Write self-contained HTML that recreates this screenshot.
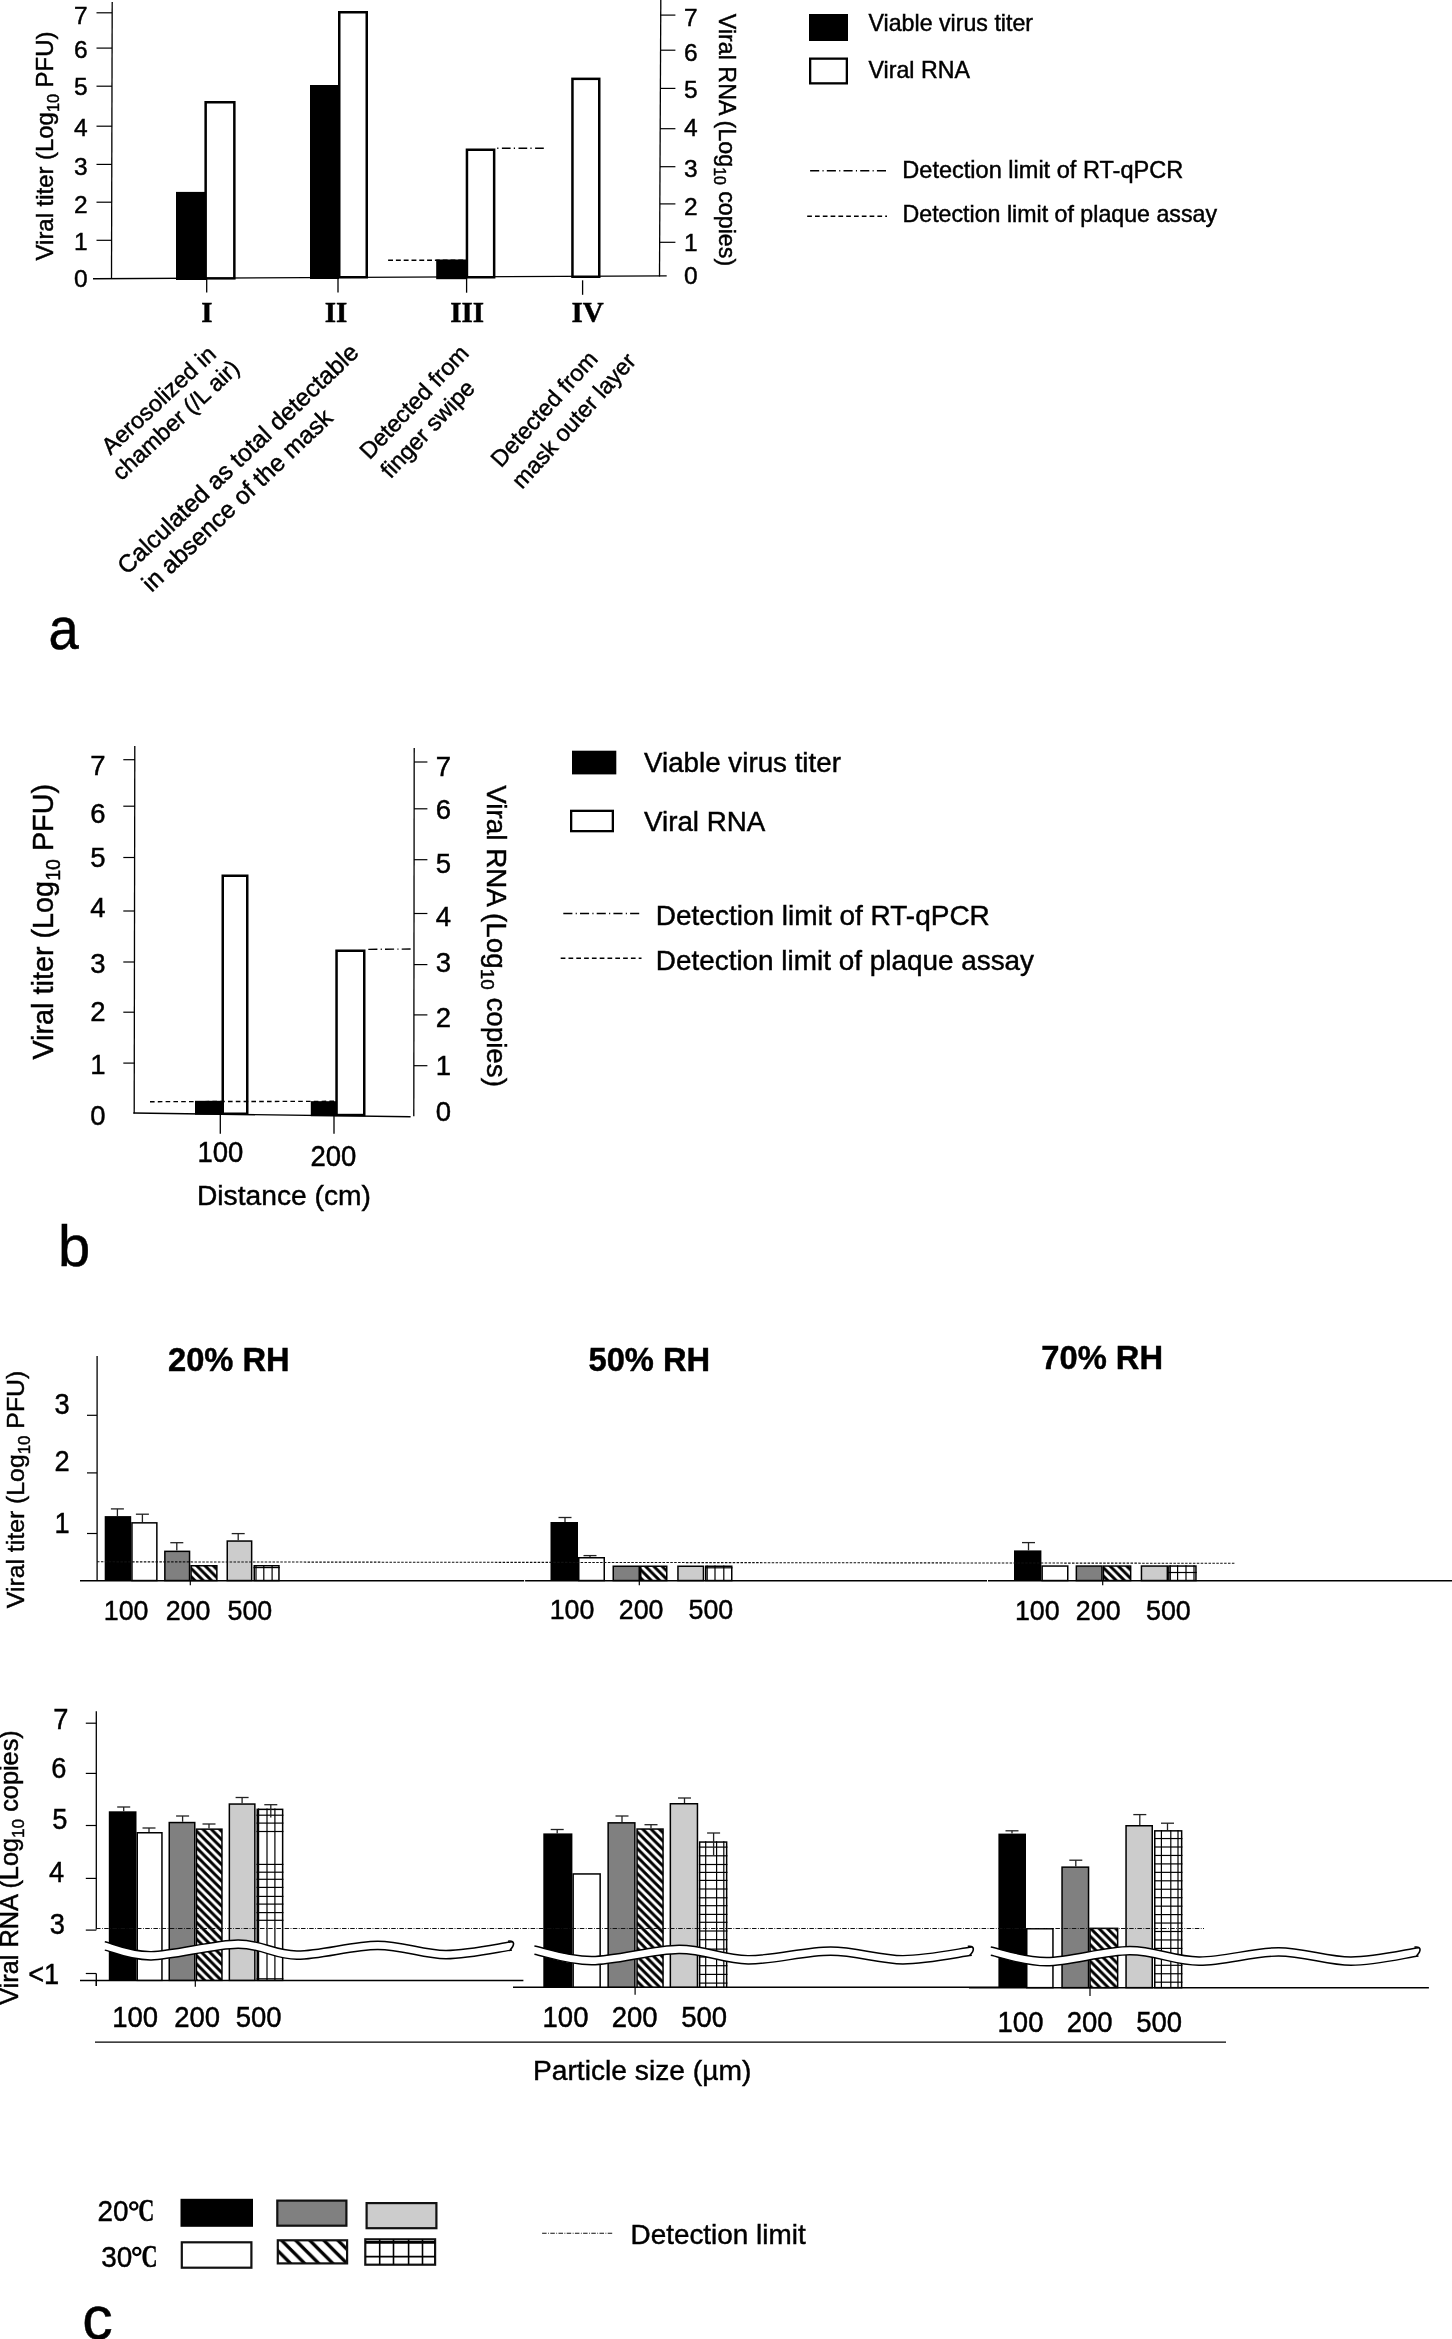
<!DOCTYPE html>
<html><head><meta charset="utf-8"><title>Figure</title>
<style>html,body{margin:0;padding:0;background:#fff;overflow:hidden}svg{display:block;will-change:transform}text{stroke:#000;stroke-width:0.45px}</style>
</head><body>
<svg width="1452" height="2339" viewBox="0 0 1452 2339" font-family='"Liberation Sans", sans-serif'>
<rect width="1452" height="2339" fill="#fff"/>
<line x1="112.2" y1="2" x2="111.5" y2="279" stroke="#000" stroke-width="1.3" />
<line x1="93" y1="278.7" x2="666.7" y2="275.9" stroke="#000" stroke-width="1.4" />
<line x1="660.8" y1="0" x2="659.5" y2="276.5" stroke="#000" stroke-width="1.3" />
<text x="80.8" y="287.0" font-family='"Liberation Sans", sans-serif' font-size="24.5" font-weight="normal" text-anchor="middle" >0</text>
<line x1="96.5" y1="240.3" x2="112" y2="240.3" stroke="#000" stroke-width="1.2" />
<text x="80.8" y="249.7" font-family='"Liberation Sans", sans-serif' font-size="24.5" font-weight="normal" text-anchor="middle" >1</text>
<line x1="96.5" y1="202.2" x2="112" y2="202.2" stroke="#000" stroke-width="1.2" />
<text x="80.8" y="213.3" font-family='"Liberation Sans", sans-serif' font-size="24.5" font-weight="normal" text-anchor="middle" >2</text>
<line x1="96.5" y1="164.4" x2="112" y2="164.4" stroke="#000" stroke-width="1.2" />
<text x="80.8" y="175.0" font-family='"Liberation Sans", sans-serif' font-size="24.5" font-weight="normal" text-anchor="middle" >3</text>
<line x1="96.5" y1="126.2" x2="112" y2="126.2" stroke="#000" stroke-width="1.2" />
<text x="80.8" y="135.9" font-family='"Liberation Sans", sans-serif' font-size="24.5" font-weight="normal" text-anchor="middle" >4</text>
<line x1="96.5" y1="86.2" x2="112" y2="86.2" stroke="#000" stroke-width="1.2" />
<text x="80.8" y="95.3" font-family='"Liberation Sans", sans-serif' font-size="24.5" font-weight="normal" text-anchor="middle" >5</text>
<line x1="96.5" y1="48.1" x2="112" y2="48.1" stroke="#000" stroke-width="1.2" />
<text x="80.8" y="57.7" font-family='"Liberation Sans", sans-serif' font-size="24.5" font-weight="normal" text-anchor="middle" >6</text>
<line x1="96.5" y1="12.8" x2="112" y2="12.8" stroke="#000" stroke-width="1.2" />
<text x="80.8" y="24.0" font-family='"Liberation Sans", sans-serif' font-size="24.5" font-weight="normal" text-anchor="middle" >7</text>
<text x="690.7" y="284.2" font-family='"Liberation Sans", sans-serif' font-size="24.5" font-weight="normal" text-anchor="middle" >0</text>
<line x1="660" y1="242.3" x2="675.4" y2="242.3" stroke="#000" stroke-width="1.2" />
<text x="690.7" y="251.0" font-family='"Liberation Sans", sans-serif' font-size="24.5" font-weight="normal" text-anchor="middle" >1</text>
<line x1="660" y1="203.9" x2="675.4" y2="203.9" stroke="#000" stroke-width="1.2" />
<text x="690.7" y="214.5" font-family='"Liberation Sans", sans-serif' font-size="24.5" font-weight="normal" text-anchor="middle" >2</text>
<line x1="660" y1="166.7" x2="675.4" y2="166.7" stroke="#000" stroke-width="1.2" />
<text x="690.7" y="177.0" font-family='"Liberation Sans", sans-serif' font-size="24.5" font-weight="normal" text-anchor="middle" >3</text>
<line x1="660" y1="128.7" x2="675.4" y2="128.7" stroke="#000" stroke-width="1.2" />
<text x="690.7" y="136.4" font-family='"Liberation Sans", sans-serif' font-size="24.5" font-weight="normal" text-anchor="middle" >4</text>
<line x1="660" y1="88.4" x2="675.4" y2="88.4" stroke="#000" stroke-width="1.2" />
<text x="690.7" y="97.6" font-family='"Liberation Sans", sans-serif' font-size="24.5" font-weight="normal" text-anchor="middle" >5</text>
<line x1="660" y1="50.2" x2="675.4" y2="50.2" stroke="#000" stroke-width="1.2" />
<text x="690.7" y="61.2" font-family='"Liberation Sans", sans-serif' font-size="24.5" font-weight="normal" text-anchor="middle" >6</text>
<line x1="660" y1="15.1" x2="675.4" y2="15.1" stroke="#000" stroke-width="1.2" />
<text x="690.7" y="26.0" font-family='"Liberation Sans", sans-serif' font-size="24.5" font-weight="normal" text-anchor="middle" >7</text>
<rect x="176" y="191.9" width="30.5" height="88.1" fill="#000" stroke="none" stroke-width="0" />
<rect x="205.65" y="102.25" width="28.7" height="176.1" fill="#fff" stroke="#000" stroke-width="2.5" />
<rect x="310" y="85" width="29" height="194" fill="#000" stroke="none" stroke-width="0" />
<rect x="339.25" y="12.25" width="27.5" height="265.0" fill="#fff" stroke="#000" stroke-width="2.5" />
<rect x="436.2" y="259.5" width="31" height="19.7" fill="#000" stroke="none" stroke-width="0" />
<rect x="466.95" y="149.75" width="27.2" height="127.5" fill="#fff" stroke="#000" stroke-width="2.5" />
<rect x="572.45" y="78.85" width="26.8" height="197.9" fill="#fff" stroke="#000" stroke-width="2.5" />
<line x1="388.1" y1="260.2" x2="466" y2="260.2" stroke="#000" stroke-width="1.4" stroke-dasharray="4.9,2.9"/>
<line x1="496.3" y1="148.2" x2="544.3" y2="148.2" stroke="#000" stroke-width="1.4" stroke-dasharray="8.7,3.2,1.2,3.5" stroke-dashoffset="11"/>
<line x1="206.7" y1="278.8" x2="206.7" y2="292.5" stroke="#000" stroke-width="1.3" />
<line x1="338" y1="277.5" x2="338" y2="292.5" stroke="#000" stroke-width="1.3" />
<line x1="466.6" y1="278.3" x2="466.6" y2="292.7" stroke="#000" stroke-width="1.3" />
<line x1="582.6" y1="280.3" x2="582.6" y2="294.8" stroke="#000" stroke-width="1.3" />
<text x="207" y="322.3" font-family='"Liberation Serif", serif' font-size="29" font-weight="bold" text-anchor="middle" >I</text>
<text x="336" y="322.3" font-family='"Liberation Serif", serif' font-size="29" font-weight="bold" text-anchor="middle" >II</text>
<text x="467.2" y="322.3" font-family='"Liberation Serif", serif' font-size="29" font-weight="bold" text-anchor="middle" >III</text>
<text x="587.5" y="322.3" font-family='"Liberation Serif", serif' font-size="29" font-weight="bold" text-anchor="middle" >IV</text>
<text transform="translate(53,260.4) rotate(-90)" font-family='"Liberation Sans", sans-serif' font-size="23.9">Viral titer (Log<tspan font-size="16.25" dy="5.74">10</tspan><tspan dy="-5.74"> PFU)</tspan></text>
<text transform="translate(719.1,13.8) rotate(90)" font-family='"Liberation Sans", sans-serif' font-size="23.25">Viral RNA (Log<tspan font-size="15.81" dy="5.58">10</tspan><tspan dy="-5.58"> copies)</tspan></text>
<rect x="809" y="14" width="39" height="27" fill="#000" stroke="none" stroke-width="0" />
<rect x="810.15" y="58.65" width="36.7" height="24.7" fill="#fff" stroke="#000" stroke-width="2.3" />
<text x="868.5" y="30.5" font-family='"Liberation Sans", sans-serif' font-size="23.2" font-weight="normal" text-anchor="start" >Viable virus titer</text>
<text x="868.5" y="78" font-family='"Liberation Sans", sans-serif' font-size="23.2" font-weight="normal" text-anchor="start" >Viral RNA</text>
<line x1="810.1" y1="170.8" x2="886" y2="170.8" stroke="#000" stroke-width="1.4" stroke-dasharray="9.1,3.3,1.1,3.2"/>
<line x1="807.2" y1="216.2" x2="887" y2="216.2" stroke="#000" stroke-width="1.4" stroke-dasharray="4.7,3.1"/>
<text x="902.3" y="177.8" font-family='"Liberation Sans", sans-serif' font-size="23.55" font-weight="normal" text-anchor="start" >Detection limit of RT-qPCR</text>
<text x="902.5" y="222.2" font-family='"Liberation Sans", sans-serif' font-size="23.2" font-weight="normal" text-anchor="start" >Detection limit of plaque assay</text>
<text transform="translate(110.5,455.7) rotate(-43)" font-family='"Liberation Sans", sans-serif' font-size="23.3" text-anchor="start">Aerosolized in</text>
<text transform="translate(121.3,481.5) rotate(-43)" font-family='"Liberation Sans", sans-serif' font-size="23.3" text-anchor="start">chamber (/L air)</text>
<text transform="translate(127,575.5) rotate(-43.5)" font-family='"Liberation Sans", sans-serif' font-size="24.5" text-anchor="start">Calculated as total detectable</text>
<text transform="translate(151.5,593) rotate(-43.5)" font-family='"Liberation Sans", sans-serif' font-size="24.5" text-anchor="start">in absence of the mask</text>
<text transform="translate(369.5,460.5) rotate(-46.5)" font-family='"Liberation Sans", sans-serif' font-size="23.3" text-anchor="start">Detected from</text>
<text transform="translate(390.5,479.5) rotate(-46.5)" font-family='"Liberation Sans", sans-serif' font-size="23.3" text-anchor="start">finger swipe</text>
<text transform="translate(501,468.5) rotate(-48)" font-family='"Liberation Sans", sans-serif' font-size="23.3" text-anchor="start">Detected from</text>
<text transform="translate(522,490) rotate(-48)" font-family='"Liberation Sans", sans-serif' font-size="23.3" text-anchor="start">mask outer layer</text>
<text transform="translate(48.5,648.6) scale(0.93,1)" font-family='"Liberation Sans", sans-serif' font-size="58.5">a</text>
<line x1="134.8" y1="746" x2="134.2" y2="1113.5" stroke="#000" stroke-width="1.3" />
<line x1="133.3" y1="1113" x2="410.6" y2="1116.8" stroke="#000" stroke-width="1.4" />
<line x1="414.2" y1="748" x2="413.8" y2="1116.3" stroke="#000" stroke-width="1.3" />
<text x="98" y="1125" font-family='"Liberation Sans", sans-serif' font-size="27.5" font-weight="normal" text-anchor="middle" >0</text>
<line x1="123.3" y1="1063.1" x2="135" y2="1063.1" stroke="#000" stroke-width="1.2" />
<text x="98" y="1074" font-family='"Liberation Sans", sans-serif' font-size="27.5" font-weight="normal" text-anchor="middle" >1</text>
<line x1="123.3" y1="1012.2" x2="135" y2="1012.2" stroke="#000" stroke-width="1.2" />
<text x="98" y="1020.8" font-family='"Liberation Sans", sans-serif' font-size="27.5" font-weight="normal" text-anchor="middle" >2</text>
<line x1="123.3" y1="962" x2="135" y2="962" stroke="#000" stroke-width="1.2" />
<text x="98" y="973.3" font-family='"Liberation Sans", sans-serif' font-size="27.5" font-weight="normal" text-anchor="middle" >3</text>
<line x1="123.3" y1="911" x2="135" y2="911" stroke="#000" stroke-width="1.2" />
<text x="98" y="917.4" font-family='"Liberation Sans", sans-serif' font-size="27.5" font-weight="normal" text-anchor="middle" >4</text>
<line x1="123.3" y1="857.5" x2="135" y2="857.5" stroke="#000" stroke-width="1.2" />
<text x="98" y="866.6" font-family='"Liberation Sans", sans-serif' font-size="27.5" font-weight="normal" text-anchor="middle" >5</text>
<line x1="123.3" y1="806.2" x2="135" y2="806.2" stroke="#000" stroke-width="1.2" />
<text x="98" y="823" font-family='"Liberation Sans", sans-serif' font-size="27.5" font-weight="normal" text-anchor="middle" >6</text>
<line x1="123.3" y1="759.7" x2="135" y2="759.7" stroke="#000" stroke-width="1.2" />
<text x="98" y="775" font-family='"Liberation Sans", sans-serif' font-size="27.5" font-weight="normal" text-anchor="middle" >7</text>
<text x="443.5" y="1121.2" font-family='"Liberation Sans", sans-serif' font-size="27.5" font-weight="normal" text-anchor="middle" >0</text>
<line x1="414" y1="1065.7" x2="427.4" y2="1065.7" stroke="#000" stroke-width="1.2" />
<text x="443.5" y="1074.9" font-family='"Liberation Sans", sans-serif' font-size="27.5" font-weight="normal" text-anchor="middle" >1</text>
<line x1="414" y1="1014.9" x2="427.4" y2="1014.9" stroke="#000" stroke-width="1.2" />
<text x="443.5" y="1027" font-family='"Liberation Sans", sans-serif' font-size="27.5" font-weight="normal" text-anchor="middle" >2</text>
<line x1="414" y1="964.6" x2="427.4" y2="964.6" stroke="#000" stroke-width="1.2" />
<text x="443.5" y="972" font-family='"Liberation Sans", sans-serif' font-size="27.5" font-weight="normal" text-anchor="middle" >3</text>
<line x1="414" y1="913.5" x2="427.4" y2="913.5" stroke="#000" stroke-width="1.2" />
<text x="443.5" y="925.9" font-family='"Liberation Sans", sans-serif' font-size="27.5" font-weight="normal" text-anchor="middle" >4</text>
<line x1="414" y1="859.7" x2="427.4" y2="859.7" stroke="#000" stroke-width="1.2" />
<text x="443.5" y="873" font-family='"Liberation Sans", sans-serif' font-size="27.5" font-weight="normal" text-anchor="middle" >5</text>
<line x1="414" y1="808.8" x2="427.4" y2="808.8" stroke="#000" stroke-width="1.2" />
<text x="443.5" y="819.2" font-family='"Liberation Sans", sans-serif' font-size="27.5" font-weight="normal" text-anchor="middle" >6</text>
<line x1="414" y1="762" x2="427.4" y2="762" stroke="#000" stroke-width="1.2" />
<text x="443.5" y="775.5" font-family='"Liberation Sans", sans-serif' font-size="27.5" font-weight="normal" text-anchor="middle" >7</text>
<rect x="195" y="1100.8" width="27.5" height="13.9" fill="#000" stroke="none" stroke-width="0" />
<rect x="222.75" y="875.75" width="24.5" height="238.0" fill="#fff" stroke="#000" stroke-width="2.5" />
<rect x="310.8" y="1101.2" width="25.5" height="15" fill="#000" stroke="none" stroke-width="0" />
<rect x="336.55" y="950.75" width="27.7" height="164.3" fill="#fff" stroke="#000" stroke-width="2.5" />
<line x1="150" y1="1101.7" x2="335" y2="1101.3" stroke="#000" stroke-width="1.4" stroke-dasharray="4.6,3.2"/>
<line x1="368.3" y1="949.4" x2="410.6" y2="949" stroke="#000" stroke-width="1.4" stroke-dasharray="9.1,3.3,1.1,3.2"/>
<line x1="220.3" y1="1113.5" x2="220.3" y2="1133.7" stroke="#000" stroke-width="1.3" />
<line x1="334" y1="1116" x2="334" y2="1133.7" stroke="#000" stroke-width="1.3" />
<text transform="translate(220.4,1162.2) scale(1,1.065)" font-family='"Liberation Sans", sans-serif' font-size="27.5" font-weight="normal" text-anchor="middle" >100</text>
<text transform="translate(333.4,1165.7) scale(1,1.065)" font-family='"Liberation Sans", sans-serif' font-size="27.5" font-weight="normal" text-anchor="middle" >200</text>
<text x="197" y="1205.3" font-family='"Liberation Sans", sans-serif' font-size="28.2" font-weight="normal" text-anchor="start" >Distance (cm)</text>
<text transform="translate(53.1,1059.6) rotate(-90)" font-family='"Liberation Sans", sans-serif' font-size="28.8">Viral titer (Log<tspan font-size="19.58" dy="6.91">10</tspan><tspan dy="-6.91"> PFU)</tspan></text>
<text transform="translate(487.2,785.3) rotate(90)" font-family='"Liberation Sans", sans-serif' font-size="27.8">Viral RNA (Log<tspan font-size="18.9" dy="6.67">10</tspan><tspan dy="-6.67"> copies)</tspan></text>
<rect x="572" y="750.7" width="44.3" height="23.7" fill="#000" stroke="none" stroke-width="0" />
<rect x="571.15" y="810.85" width="41.7" height="20.3" fill="#fff" stroke="#000" stroke-width="2.3" />
<text x="644" y="772" font-family='"Liberation Sans", sans-serif' font-size="27.75" font-weight="normal" text-anchor="start" >Viable virus titer</text>
<text x="644" y="830.5" font-family='"Liberation Sans", sans-serif' font-size="27.75" font-weight="normal" text-anchor="start" >Viral RNA</text>
<line x1="563.3" y1="913.5" x2="640.8" y2="913.5" stroke="#000" stroke-width="1.4" stroke-dasharray="9.1,3.3,1.1,3.2"/>
<line x1="560.7" y1="958.3" x2="641.5" y2="958.3" stroke="#000" stroke-width="1.4" stroke-dasharray="4.7,3.1"/>
<text x="655.8" y="924.9" font-family='"Liberation Sans", sans-serif' font-size="28.0" font-weight="normal" text-anchor="start" >Detection limit of RT-qPCR</text>
<text x="655.8" y="970" font-family='"Liberation Sans", sans-serif' font-size="27.9" font-weight="normal" text-anchor="start" >Detection limit of plaque assay</text>
<text x="58" y="1265.5" font-family='"Liberation Sans", sans-serif' font-size="58" font-weight="normal" text-anchor="start" >b</text>
<defs>
<pattern id="hat" patternUnits="userSpaceOnUse" width="8.3" height="8.3" patternTransform="translate(0.5,0)">
<rect width="8.3" height="8.3" fill="#fff"/>
<path d="M-2,-2 L10.3,10.3 M-2,6.3 L2,10.3 M6.3,-2 L10.3,2" stroke="#000" stroke-width="3.0"/>
</pattern>
<pattern id="hatL" patternUnits="userSpaceOnUse" width="14.1" height="14.1" patternTransform="translate(282.6,2241.4)">
<rect width="14.1" height="14.1" fill="#fff"/>
<path d="M-3,-3 L17.1,17.1 M-3,11.1 L3,17.1 M11.1,-3 L17.1,3" stroke="#000" stroke-width="3.3"/>
</pattern>
</defs>
<line x1="97.1" y1="1356" x2="97.1" y2="1581" stroke="#000" stroke-width="1.3" />
<line x1="80" y1="1580.7" x2="1452" y2="1580.7" stroke="#000" stroke-width="1.4" />
<line x1="87" y1="1415.3" x2="97" y2="1415.3" stroke="#000" stroke-width="1.2" />
<text transform="translate(62,1413.6) scale(0.93,1)" font-family='"Liberation Sans", sans-serif' font-size="29.3" text-anchor="middle">3</text>
<line x1="87" y1="1472.9" x2="97" y2="1472.9" stroke="#000" stroke-width="1.2" />
<text transform="translate(62,1470.5) scale(0.93,1)" font-family='"Liberation Sans", sans-serif' font-size="29.3" text-anchor="middle">2</text>
<line x1="87" y1="1533.5" x2="97" y2="1533.5" stroke="#000" stroke-width="1.2" />
<text transform="translate(62,1533.3) scale(0.93,1)" font-family='"Liberation Sans", sans-serif' font-size="29.3" text-anchor="middle">1</text>
<text x="168" y="1371" font-family='"Liberation Sans", sans-serif' font-size="32.7" font-weight="bold" text-anchor="start" >20% RH</text>
<text x="588.5" y="1371" font-family='"Liberation Sans", sans-serif' font-size="32.7" font-weight="bold" text-anchor="start" >50% RH</text>
<text x="1041.3" y="1369.2" font-family='"Liberation Sans", sans-serif' font-size="32.7" font-weight="bold" text-anchor="start" >70% RH</text>
<rect x="104.7" y="1516.1" width="26.5" height="64.6" fill="#000" stroke="none" stroke-width="0" />
<line x1="117.4" y1="1508.9" x2="117.4" y2="1516.1" stroke="#222" stroke-width="1.3" />
<line x1="110.9" y1="1508.9" x2="123.9" y2="1508.9" stroke="#222" stroke-width="1.3" />
<rect x="131.95" y="1522.85" width="24.9" height="57.7" fill="#fff" stroke="#000" stroke-width="1.5" />
<line x1="142.4" y1="1514.2" x2="142.4" y2="1522.1" stroke="#222" stroke-width="1.3" />
<line x1="135.9" y1="1514.2" x2="148.9" y2="1514.2" stroke="#222" stroke-width="1.3" />
<rect x="164.85" y="1551.35" width="24.7" height="29.2" fill="#808080" stroke="#000" stroke-width="1.5" />
<line x1="176.8" y1="1542.7" x2="176.8" y2="1550.6" stroke="#222" stroke-width="1.3" />
<line x1="170.3" y1="1542.7" x2="183.3" y2="1542.7" stroke="#222" stroke-width="1.3" />
<rect x="191.05" y="1565.75" width="25.8" height="14.8" fill="url(#hat)" stroke="#000" stroke-width="1.5" />
<rect x="227.25" y="1541.05" width="24.4" height="39.5" fill="#cccccc" stroke="#000" stroke-width="1.5" />
<line x1="238.2" y1="1533.6" x2="238.2" y2="1540.3" stroke="#222" stroke-width="1.3" />
<line x1="231.7" y1="1533.6" x2="244.7" y2="1533.6" stroke="#222" stroke-width="1.3" />
<rect x="254.25" y="1565.75" width="24.7" height="14.8" fill="#fff" stroke="#000" stroke-width="1.5" />
<line x1="253.5" y1="1567.6" x2="279.7" y2="1567.6" stroke="#000" stroke-width="1.2" />
<line x1="256" y1="1565" x2="256" y2="1580.7" stroke="#000" stroke-width="1.2" />
<line x1="263.8" y1="1565" x2="263.8" y2="1580.7" stroke="#000" stroke-width="1.2" />
<line x1="272.1" y1="1565" x2="272.1" y2="1580.7" stroke="#000" stroke-width="1.2" />
<rect x="550.5" y="1522" width="27.5" height="58.7" fill="#000" stroke="none" stroke-width="0" />
<line x1="565" y1="1517.5" x2="565" y2="1522" stroke="#222" stroke-width="1.3" />
<line x1="558.5" y1="1517.5" x2="571.5" y2="1517.5" stroke="#222" stroke-width="1.3" />
<rect x="578.75" y="1557.75" width="25.5" height="22.8" fill="#fff" stroke="#000" stroke-width="1.5" />
<line x1="590" y1="1555.6" x2="590" y2="1557" stroke="#222" stroke-width="1.3" />
<line x1="583.5" y1="1555.6" x2="596.5" y2="1555.6" stroke="#222" stroke-width="1.3" />
<rect x="613.25" y="1566.25" width="26.0" height="14.3" fill="#808080" stroke="#000" stroke-width="1.5" />
<rect x="640.75" y="1566.25" width="26.0" height="14.3" fill="url(#hat)" stroke="#000" stroke-width="1.5" />
<rect x="677.95" y="1566.25" width="25.5" height="14.3" fill="#cccccc" stroke="#000" stroke-width="1.5" />
<rect x="705.75" y="1566.25" width="26.0" height="14.3" fill="#fff" stroke="#000" stroke-width="1.5" />
<line x1="705" y1="1567.8" x2="732.5" y2="1567.8" stroke="#000" stroke-width="1.2" />
<line x1="707.2" y1="1565.5" x2="707.2" y2="1580.7" stroke="#000" stroke-width="1.2" />
<line x1="715" y1="1565.5" x2="715" y2="1580.7" stroke="#000" stroke-width="1.2" />
<line x1="723.8" y1="1565.5" x2="723.8" y2="1580.7" stroke="#000" stroke-width="1.2" />
<rect x="1014" y="1550.4" width="27.4" height="30.3" fill="#000" stroke="none" stroke-width="0" />
<line x1="1028.5" y1="1542.6" x2="1028.5" y2="1550.4" stroke="#222" stroke-width="1.3" />
<line x1="1022.0" y1="1542.6" x2="1035.0" y2="1542.6" stroke="#222" stroke-width="1.3" />
<rect x="1042.15" y="1566.05" width="25.6" height="14.5" fill="#fff" stroke="#000" stroke-width="1.5" />
<rect x="1076.35" y="1566.05" width="25.6" height="14.5" fill="#808080" stroke="#000" stroke-width="1.5" />
<rect x="1103.45" y="1566.05" width="27.2" height="14.5" fill="url(#hat)" stroke="#000" stroke-width="1.5" />
<rect x="1141.45" y="1566.05" width="25.9" height="14.5" fill="#cccccc" stroke="#000" stroke-width="1.5" />
<rect x="1168.85" y="1566.05" width="27.1" height="14.5" fill="#fff" stroke="#000" stroke-width="1.5" />
<line x1="1168.1" y1="1572.5" x2="1196.7" y2="1572.5" stroke="#000" stroke-width="1.2" />
<line x1="1170.3" y1="1565.3" x2="1170.3" y2="1580.7" stroke="#000" stroke-width="1.2" />
<line x1="1177.6" y1="1565.3" x2="1177.6" y2="1580.7" stroke="#000" stroke-width="1.2" />
<line x1="1186" y1="1565.3" x2="1186" y2="1580.7" stroke="#000" stroke-width="1.2" />
<line x1="1194" y1="1565.3" x2="1194" y2="1580.7" stroke="#000" stroke-width="1.2" />
<line x1="97" y1="1561.8" x2="1235" y2="1563.3" stroke="#111" stroke-width="1.1" stroke-dasharray="2.5,1.4"/>
<rect x="524.1" y="1579" width="1" height="3.5" fill="#fff" stroke="none" stroke-width="0" />
<rect x="987" y="1579" width="1" height="3.5" fill="#fff" stroke="none" stroke-width="0" />
<line x1="190.3" y1="1580.7" x2="190.3" y2="1585.3" stroke="#000" stroke-width="1.2" />
<line x1="639.3" y1="1580.7" x2="639.3" y2="1585.3" stroke="#000" stroke-width="1.2" />
<line x1="1102.7" y1="1580.7" x2="1102.7" y2="1585.3" stroke="#000" stroke-width="1.2" />
<text transform="translate(126.1,1620) scale(1,1.04)" font-family='"Liberation Sans", sans-serif' font-size="26.8" font-weight="normal" text-anchor="middle" >100</text>
<text transform="translate(188,1620) scale(1,1.04)" font-family='"Liberation Sans", sans-serif' font-size="26.8" font-weight="normal" text-anchor="middle" >200</text>
<text transform="translate(249.9,1620) scale(1,1.04)" font-family='"Liberation Sans", sans-serif' font-size="26.8" font-weight="normal" text-anchor="middle" >500</text>
<text transform="translate(572,1619) scale(1,1.04)" font-family='"Liberation Sans", sans-serif' font-size="26.8" font-weight="normal" text-anchor="middle" >100</text>
<text transform="translate(641.1,1619) scale(1,1.04)" font-family='"Liberation Sans", sans-serif' font-size="26.8" font-weight="normal" text-anchor="middle" >200</text>
<text transform="translate(710.9,1619) scale(1,1.04)" font-family='"Liberation Sans", sans-serif' font-size="26.8" font-weight="normal" text-anchor="middle" >500</text>
<text transform="translate(1037.3,1620.4) scale(1,1.04)" font-family='"Liberation Sans", sans-serif' font-size="26.8" font-weight="normal" text-anchor="middle" >100</text>
<text transform="translate(1098.2,1620.4) scale(1,1.04)" font-family='"Liberation Sans", sans-serif' font-size="26.8" font-weight="normal" text-anchor="middle" >200</text>
<text transform="translate(1168.4,1620.4) scale(1,1.04)" font-family='"Liberation Sans", sans-serif' font-size="26.8" font-weight="normal" text-anchor="middle" >500</text>
<text transform="translate(24.4,1608.2) rotate(-90)" font-family='"Liberation Sans", sans-serif' font-size="24.8">Viral titer (Log<tspan font-size="16.86" dy="5.95">10</tspan><tspan dy="-5.95"> PFU)</tspan></text>
<line x1="96.3" y1="1711.3" x2="96.3" y2="1929.5" stroke="#000" stroke-width="1.3" />
<line x1="96.3" y1="1973.5" x2="96.3" y2="1986" stroke="#000" stroke-width="1.3" />
<line x1="85.8" y1="1723.2" x2="96.3" y2="1723.2" stroke="#000" stroke-width="1.2" />
<text transform="translate(60.8,1728.8) scale(0.93,1)" font-family='"Liberation Sans", sans-serif' font-size="29.3" text-anchor="middle">7</text>
<line x1="85.8" y1="1773.4" x2="96.3" y2="1773.4" stroke="#000" stroke-width="1.2" />
<text transform="translate(58.8,1777.5) scale(0.93,1)" font-family='"Liberation Sans", sans-serif' font-size="29.3" text-anchor="middle">6</text>
<line x1="85.8" y1="1825.5" x2="96.3" y2="1825.5" stroke="#000" stroke-width="1.2" />
<text transform="translate(59.8,1829) scale(0.93,1)" font-family='"Liberation Sans", sans-serif' font-size="29.3" text-anchor="middle">5</text>
<line x1="85.8" y1="1878.4" x2="96.3" y2="1878.4" stroke="#000" stroke-width="1.2" />
<text transform="translate(56.6,1881.5) scale(0.93,1)" font-family='"Liberation Sans", sans-serif' font-size="29.3" text-anchor="middle">4</text>
<line x1="85.8" y1="1930.1" x2="96.3" y2="1930.1" stroke="#000" stroke-width="1.2" />
<text transform="translate(57.4,1933.7) scale(0.93,1)" font-family='"Liberation Sans", sans-serif' font-size="29.3" text-anchor="middle">3</text>
<line x1="85.8" y1="1973.5" x2="96.3" y2="1973.5" stroke="#000" stroke-width="1.2" />
<text transform="translate(59.2,1984.3) scale(0.93,1)" font-family='"Liberation Sans", sans-serif' font-size="29.3" text-anchor="end">&lt;1</text>
<text transform="translate(18,2004.8) rotate(-90)" font-family='"Liberation Sans", sans-serif' font-size="25.3">Viral RNA (Log<tspan font-size="17.2" dy="6.07">10</tspan><tspan dy="-6.07"> copies)</tspan></text>
<line x1="80" y1="1980.5" x2="523.4" y2="1980.5" stroke="#000" stroke-width="1.4" />
<line x1="513" y1="1987.3" x2="999" y2="1987.3" stroke="#000" stroke-width="1.4" />
<line x1="969" y1="1987.8" x2="1428.9" y2="1987.8" stroke="#000" stroke-width="1.4" />
<rect x="108.8" y="1811.3" width="27.7" height="169.2" fill="#000" stroke="none" stroke-width="0" />
<line x1="123.7" y1="1807" x2="123.7" y2="1811.3" stroke="#222" stroke-width="1.3" />
<line x1="117.2" y1="1807" x2="130.2" y2="1807" stroke="#222" stroke-width="1.3" />
<rect x="137.25" y="1832.75" width="24.7" height="147.6" fill="#fff" stroke="#000" stroke-width="1.5" />
<line x1="149" y1="1828" x2="149" y2="1832" stroke="#222" stroke-width="1.3" />
<line x1="142.5" y1="1828" x2="155.5" y2="1828" stroke="#222" stroke-width="1.3" />
<rect x="169.25" y="1822.55" width="25.5" height="157.8" fill="#808080" stroke="#000" stroke-width="1.5" />
<line x1="182.6" y1="1816" x2="182.6" y2="1821.8" stroke="#222" stroke-width="1.3" />
<line x1="176.1" y1="1816" x2="189.1" y2="1816" stroke="#222" stroke-width="1.3" />
<rect x="196.45" y="1829.15" width="25.5" height="151.2" fill="url(#hat)" stroke="#000" stroke-width="1.5" />
<line x1="209" y1="1824" x2="209" y2="1828.4" stroke="#222" stroke-width="1.3" />
<line x1="202.5" y1="1824" x2="215.5" y2="1824" stroke="#222" stroke-width="1.3" />
<rect x="229.35" y="1804.05" width="25.5" height="176.3" fill="#cccccc" stroke="#000" stroke-width="1.5" />
<line x1="242.1" y1="1797.5" x2="242.1" y2="1803.3" stroke="#222" stroke-width="1.3" />
<line x1="235.6" y1="1797.5" x2="248.6" y2="1797.5" stroke="#222" stroke-width="1.3" />
<rect x="257.25" y="1809.35" width="25.4" height="171.0" fill="#fff" stroke="#000" stroke-width="1.5" />
<line x1="256.5" y1="1815.2" x2="283.4" y2="1815.2" stroke="#000" stroke-width="1.2" />
<line x1="256.5" y1="1823.1" x2="283.4" y2="1823.1" stroke="#000" stroke-width="1.2" />
<line x1="256.5" y1="1831.5" x2="283.4" y2="1831.5" stroke="#000" stroke-width="1.2" />
<line x1="256.5" y1="1864.4" x2="283.4" y2="1864.4" stroke="#000" stroke-width="1.2" />
<line x1="256.5" y1="1872.2" x2="283.4" y2="1872.2" stroke="#000" stroke-width="1.2" />
<line x1="256.5" y1="1879.3" x2="283.4" y2="1879.3" stroke="#000" stroke-width="1.2" />
<line x1="256.5" y1="1887.4" x2="283.4" y2="1887.4" stroke="#000" stroke-width="1.2" />
<line x1="256.5" y1="1896.4" x2="283.4" y2="1896.4" stroke="#000" stroke-width="1.2" />
<line x1="256.5" y1="1904.1" x2="283.4" y2="1904.1" stroke="#000" stroke-width="1.2" />
<line x1="256.5" y1="1912.6" x2="283.4" y2="1912.6" stroke="#000" stroke-width="1.2" />
<line x1="256.5" y1="1920.3" x2="283.4" y2="1920.3" stroke="#000" stroke-width="1.2" />
<line x1="256.5" y1="1978.8" x2="283.4" y2="1978.8" stroke="#000" stroke-width="1.2" />
<line x1="258.6" y1="1808.6" x2="258.6" y2="1980.5" stroke="#000" stroke-width="1.2" />
<line x1="267" y1="1808.6" x2="267" y2="1980.5" stroke="#000" stroke-width="1.2" />
<line x1="274.9" y1="1808.6" x2="274.9" y2="1980.5" stroke="#000" stroke-width="1.2" />
<line x1="270.8" y1="1804.7" x2="270.8" y2="1817.4" stroke="#222" stroke-width="1.3" />
<line x1="264.3" y1="1804.7" x2="277.3" y2="1804.7" stroke="#222" stroke-width="1.3" />
<rect x="543.3" y="1833.4" width="29.1" height="153.9" fill="#000" stroke="none" stroke-width="0" />
<line x1="557.2" y1="1829.5" x2="557.2" y2="1833.4" stroke="#222" stroke-width="1.3" />
<line x1="550.7" y1="1829.5" x2="563.7" y2="1829.5" stroke="#222" stroke-width="1.3" />
<rect x="573.15" y="1873.95" width="27.0" height="113.2" fill="#fff" stroke="#000" stroke-width="1.5" />
<rect x="608.15" y="1822.85" width="26.7" height="164.3" fill="#808080" stroke="#000" stroke-width="1.5" />
<line x1="622" y1="1816" x2="622" y2="1822.1" stroke="#222" stroke-width="1.3" />
<line x1="615.5" y1="1816" x2="628.5" y2="1816" stroke="#222" stroke-width="1.3" />
<rect x="637.05" y="1829.05" width="26.0" height="158.1" fill="url(#hat)" stroke="#000" stroke-width="1.5" />
<line x1="651" y1="1824.7" x2="651" y2="1828.3" stroke="#222" stroke-width="1.3" />
<line x1="644.5" y1="1824.7" x2="657.5" y2="1824.7" stroke="#222" stroke-width="1.3" />
<rect x="670.35" y="1803.75" width="27.1" height="183.4" fill="#cccccc" stroke="#000" stroke-width="1.5" />
<line x1="684.5" y1="1798" x2="684.5" y2="1803" stroke="#222" stroke-width="1.3" />
<line x1="678.0" y1="1798" x2="691.0" y2="1798" stroke="#222" stroke-width="1.3" />
<rect x="699.65" y="1842.05" width="27.0" height="145.1" fill="#fff" stroke="#000" stroke-width="1.5" />
<line x1="698.9" y1="1847.1" x2="727.4" y2="1847.1" stroke="#000" stroke-width="1.2" />
<line x1="698.9" y1="1855.8" x2="727.4" y2="1855.8" stroke="#000" stroke-width="1.2" />
<line x1="698.9" y1="1864.5" x2="727.4" y2="1864.5" stroke="#000" stroke-width="1.2" />
<line x1="698.9" y1="1872.4" x2="727.4" y2="1872.4" stroke="#000" stroke-width="1.2" />
<line x1="698.9" y1="1880.4" x2="727.4" y2="1880.4" stroke="#000" stroke-width="1.2" />
<line x1="698.9" y1="1889" x2="727.4" y2="1889" stroke="#000" stroke-width="1.2" />
<line x1="698.9" y1="1897.8" x2="727.4" y2="1897.8" stroke="#000" stroke-width="1.2" />
<line x1="698.9" y1="1905.7" x2="727.4" y2="1905.7" stroke="#000" stroke-width="1.2" />
<line x1="698.9" y1="1914.4" x2="727.4" y2="1914.4" stroke="#000" stroke-width="1.2" />
<line x1="698.9" y1="1922.3" x2="727.4" y2="1922.3" stroke="#000" stroke-width="1.2" />
<line x1="698.9" y1="1931" x2="727.4" y2="1931" stroke="#000" stroke-width="1.2" />
<line x1="698.9" y1="1939.7" x2="727.4" y2="1939.7" stroke="#000" stroke-width="1.2" />
<line x1="698.9" y1="1949.1" x2="727.4" y2="1949.1" stroke="#000" stroke-width="1.2" />
<line x1="698.9" y1="1957" x2="727.4" y2="1957" stroke="#000" stroke-width="1.2" />
<line x1="698.9" y1="1965.7" x2="727.4" y2="1965.7" stroke="#000" stroke-width="1.2" />
<line x1="698.9" y1="1974.4" x2="727.4" y2="1974.4" stroke="#000" stroke-width="1.2" />
<line x1="698.9" y1="1983.1" x2="727.4" y2="1983.1" stroke="#000" stroke-width="1.2" />
<line x1="705.7" y1="1841.3" x2="705.7" y2="1987.3" stroke="#000" stroke-width="1.2" />
<line x1="716.6" y1="1841.3" x2="716.6" y2="1987.3" stroke="#000" stroke-width="1.2" />
<line x1="723.8" y1="1841.3" x2="723.8" y2="1987.3" stroke="#000" stroke-width="1.2" />
<line x1="713.6" y1="1833" x2="713.6" y2="1855" stroke="#222" stroke-width="1.3" />
<line x1="707.1" y1="1833" x2="720.1" y2="1833" stroke="#222" stroke-width="1.3" />
<rect x="998.4" y="1833.6" width="27.6" height="154.2" fill="#000" stroke="none" stroke-width="0" />
<line x1="1012" y1="1830.8" x2="1012" y2="1833.6" stroke="#222" stroke-width="1.3" />
<line x1="1005.5" y1="1830.8" x2="1018.5" y2="1830.8" stroke="#222" stroke-width="1.3" />
<rect x="1026.75" y="1928.75" width="26.2" height="58.9" fill="#fff" stroke="#000" stroke-width="1.5" />
<rect x="1062.05" y="1867.15" width="26.5" height="120.5" fill="#808080" stroke="#000" stroke-width="1.5" />
<line x1="1075.8" y1="1860.2" x2="1075.8" y2="1866.4" stroke="#222" stroke-width="1.3" />
<line x1="1069.3" y1="1860.2" x2="1082.3" y2="1860.2" stroke="#222" stroke-width="1.3" />
<rect x="1090.05" y="1928.35" width="27.6" height="59.3" fill="url(#hat)" stroke="#000" stroke-width="1.5" />
<rect x="1126.05" y="1825.75" width="26.2" height="161.9" fill="#cccccc" stroke="#000" stroke-width="1.5" />
<line x1="1139.8" y1="1814.6" x2="1139.8" y2="1825" stroke="#222" stroke-width="1.3" />
<line x1="1133.3" y1="1814.6" x2="1146.3" y2="1814.6" stroke="#222" stroke-width="1.3" />
<rect x="1154.75" y="1830.85" width="26.9" height="156.8" fill="#fff" stroke="#000" stroke-width="1.5" />
<line x1="1154" y1="1838.55" x2="1182.4" y2="1838.55" stroke="#000" stroke-width="1.2" />
<line x1="1154" y1="1847.0" x2="1182.4" y2="1847.0" stroke="#000" stroke-width="1.2" />
<line x1="1154" y1="1855.4499999999998" x2="1182.4" y2="1855.4499999999998" stroke="#000" stroke-width="1.2" />
<line x1="1154" y1="1863.8999999999999" x2="1182.4" y2="1863.8999999999999" stroke="#000" stroke-width="1.2" />
<line x1="1154" y1="1872.35" x2="1182.4" y2="1872.35" stroke="#000" stroke-width="1.2" />
<line x1="1154" y1="1880.8" x2="1182.4" y2="1880.8" stroke="#000" stroke-width="1.2" />
<line x1="1154" y1="1889.25" x2="1182.4" y2="1889.25" stroke="#000" stroke-width="1.2" />
<line x1="1154" y1="1897.6999999999998" x2="1182.4" y2="1897.6999999999998" stroke="#000" stroke-width="1.2" />
<line x1="1154" y1="1906.1499999999999" x2="1182.4" y2="1906.1499999999999" stroke="#000" stroke-width="1.2" />
<line x1="1154" y1="1914.6" x2="1182.4" y2="1914.6" stroke="#000" stroke-width="1.2" />
<line x1="1154" y1="1923.05" x2="1182.4" y2="1923.05" stroke="#000" stroke-width="1.2" />
<line x1="1154" y1="1931.5" x2="1182.4" y2="1931.5" stroke="#000" stroke-width="1.2" />
<line x1="1154" y1="1939.9499999999998" x2="1182.4" y2="1939.9499999999998" stroke="#000" stroke-width="1.2" />
<line x1="1154" y1="1948.3999999999999" x2="1182.4" y2="1948.3999999999999" stroke="#000" stroke-width="1.2" />
<line x1="1154" y1="1956.85" x2="1182.4" y2="1956.85" stroke="#000" stroke-width="1.2" />
<line x1="1154" y1="1965.3" x2="1182.4" y2="1965.3" stroke="#000" stroke-width="1.2" />
<line x1="1154" y1="1973.75" x2="1182.4" y2="1973.75" stroke="#000" stroke-width="1.2" />
<line x1="1154" y1="1982.1999999999998" x2="1182.4" y2="1982.1999999999998" stroke="#000" stroke-width="1.2" />
<line x1="1161.4" y1="1830.1" x2="1161.4" y2="1987.8" stroke="#000" stroke-width="1.2" />
<line x1="1170.8" y1="1830.1" x2="1170.8" y2="1987.8" stroke="#000" stroke-width="1.2" />
<line x1="1178" y1="1830.1" x2="1178" y2="1987.8" stroke="#000" stroke-width="1.2" />
<line x1="1167.5" y1="1823.2" x2="1167.5" y2="1830.1" stroke="#222" stroke-width="1.3" />
<line x1="1161.0" y1="1823.2" x2="1174.0" y2="1823.2" stroke="#222" stroke-width="1.3" />
<line x1="96" y1="1928.5" x2="1204" y2="1928.5" stroke="#111" stroke-width="1.1" stroke-dasharray="4.5,1.5,0.8,1.4"/>
<line x1="96.3" y1="1980.5" x2="96.3" y2="1986" stroke="#000" stroke-width="1.2" />
<line x1="195.3" y1="1980.5" x2="195.3" y2="1986.8" stroke="#000" stroke-width="1.2" />
<line x1="635.1" y1="1987.3" x2="635.1" y2="1994.7" stroke="#000" stroke-width="1.2" />
<line x1="1090" y1="1987.8" x2="1090" y2="1996" stroke="#000" stroke-width="1.2" />
<path d="M104.8,1941.8 C112.5,1943.4 129.1,1951.9 151.3,1951.6 C173.5,1951.3 213.7,1940.1 238.0,1940.0 C262.3,1939.9 273.6,1950.8 296.9,1951.0 C320.1,1951.2 352.7,1941.3 377.5,1941.2 C402.3,1941.1 423.3,1950.4 445.7,1950.5 C468.1,1950.6 500.9,1943.2 512.0,1941.8 L512,1950.1 C500.9,1951.5 468.1,1958.9 445.7,1958.8 C423.3,1958.7 402.3,1949.4 377.5,1949.5 C352.7,1949.6 320.1,1959.5 296.9,1959.3 C273.6,1959.1 262.3,1948.2 238.0,1948.3 C213.7,1948.4 173.5,1959.6 151.3,1959.9 C129.1,1960.2 112.5,1951.7 104.8,1950.1 Z" fill="#fff" stroke="none"/>
<path d="M104.8,1941.8 C112.5,1943.4 129.1,1951.9 151.3,1951.6 C173.5,1951.3 213.7,1940.1 238.0,1940.0 C262.3,1939.9 273.6,1950.8 296.9,1951.0 C320.1,1951.2 352.7,1941.3 377.5,1941.2 C402.3,1941.1 423.3,1950.4 445.7,1950.5 C468.1,1950.6 500.9,1943.2 512.0,1941.8" fill="none" stroke="#000" stroke-width="1.45"/>
<path d="M104.8,1950.1 C112.5,1951.7 129.1,1960.2 151.3,1959.9 C173.5,1959.6 213.7,1948.4 238.0,1948.3 C262.3,1948.2 273.6,1959.1 296.9,1959.3 C320.1,1959.5 352.7,1949.6 377.5,1949.5 C402.3,1949.4 423.3,1958.7 445.7,1958.8 C468.1,1958.9 500.9,1951.5 512.0,1950.1" fill="none" stroke="#000" stroke-width="1.45"/>
<path d="M508,1941.2 C515,1940.3 515,1944.8 510,1950.1" fill="none" stroke="#000" stroke-width="1.6"/>
<path d="M534.4,1946 C544.0,1947.8 567.9,1956.6 592.0,1956.5 C616.1,1956.4 653.0,1945.4 679.0,1945.2 C705.0,1945.0 722.7,1955.3 748.0,1955.6 C773.3,1955.9 804.8,1947.0 830.6,1947.0 C856.4,1947.0 879.5,1955.6 903.0,1955.6 C926.5,1955.6 960.3,1948.4 971.8,1947.0 L971.8,1955.3 C960.3,1956.7 926.5,1963.9 903.0,1963.9 C879.5,1963.9 856.4,1955.3 830.6,1955.3 C804.8,1955.3 773.3,1964.2 748.0,1963.9 C722.7,1963.6 705.0,1953.3 679.0,1953.5 C653.0,1953.7 616.1,1964.7 592.0,1964.8 C567.9,1964.9 544.0,1956.0 534.4,1954.3 Z" fill="#fff" stroke="none"/>
<path d="M534.4,1946 C544.0,1947.8 567.9,1956.6 592.0,1956.5 C616.1,1956.4 653.0,1945.4 679.0,1945.2 C705.0,1945.0 722.7,1955.3 748.0,1955.6 C773.3,1955.9 804.8,1947.0 830.6,1947.0 C856.4,1947.0 879.5,1955.6 903.0,1955.6 C926.5,1955.6 960.3,1948.4 971.8,1947.0" fill="none" stroke="#000" stroke-width="1.45"/>
<path d="M534.4,1954.3 C544.0,1956.0 567.9,1964.9 592.0,1964.8 C616.1,1964.7 653.0,1953.7 679.0,1953.5 C705.0,1953.3 722.7,1963.6 748.0,1963.9 C773.3,1964.2 804.8,1955.3 830.6,1955.3 C856.4,1955.3 879.5,1963.9 903.0,1963.9 C926.5,1963.9 960.3,1956.7 971.8,1955.3" fill="none" stroke="#000" stroke-width="1.45"/>
<path d="M967.8,1946.4 C974.8,1945.5 974.8,1950 969.8,1955.3" fill="none" stroke="#000" stroke-width="1.6"/>
<path d="M990.8,1947 C1000.1,1948.8 1023.6,1957.6 1046.8,1957.5 C1070.0,1957.4 1104.4,1946.6 1129.8,1946.5 C1155.2,1946.4 1174.2,1956.8 1199.0,1957.0 C1223.8,1957.2 1253.2,1947.7 1278.5,1947.7 C1303.8,1947.7 1327.7,1957.0 1351.0,1957.0 C1374.3,1957.0 1407.2,1949.2 1418.5,1947.7 L1418.5,1956.0 C1407.2,1957.5 1374.3,1965.3 1351.0,1965.3 C1327.7,1965.3 1303.8,1956.0 1278.5,1956.0 C1253.2,1956.0 1223.8,1965.5 1199.0,1965.3 C1174.2,1965.1 1155.2,1954.7 1129.8,1954.8 C1104.4,1954.9 1070.0,1965.7 1046.8,1965.8 C1023.6,1965.9 1000.1,1957.0 990.8,1955.3 Z" fill="#fff" stroke="none"/>
<path d="M990.8,1947 C1000.1,1948.8 1023.6,1957.6 1046.8,1957.5 C1070.0,1957.4 1104.4,1946.6 1129.8,1946.5 C1155.2,1946.4 1174.2,1956.8 1199.0,1957.0 C1223.8,1957.2 1253.2,1947.7 1278.5,1947.7 C1303.8,1947.7 1327.7,1957.0 1351.0,1957.0 C1374.3,1957.0 1407.2,1949.2 1418.5,1947.7" fill="none" stroke="#000" stroke-width="1.45"/>
<path d="M990.8,1955.3 C1000.1,1957.0 1023.6,1965.9 1046.8,1965.8 C1070.0,1965.7 1104.4,1954.9 1129.8,1954.8 C1155.2,1954.7 1174.2,1965.1 1199.0,1965.3 C1223.8,1965.5 1253.2,1956.0 1278.5,1956.0 C1303.8,1956.0 1327.7,1965.3 1351.0,1965.3 C1374.3,1965.3 1407.2,1957.5 1418.5,1956.0" fill="none" stroke="#000" stroke-width="1.45"/>
<path d="M1414.5,1947.1000000000001 C1421.5,1946.2 1421.5,1950.7 1416.5,1956.0" fill="none" stroke="#000" stroke-width="1.6"/>
<text transform="translate(135.2,2026.8) scale(1,1.045)" font-family='"Liberation Sans", sans-serif' font-size="27.5" font-weight="normal" text-anchor="middle" >100</text>
<text transform="translate(197.2,2026.8) scale(1,1.045)" font-family='"Liberation Sans", sans-serif' font-size="27.5" font-weight="normal" text-anchor="middle" >200</text>
<text transform="translate(258.6,2026.8) scale(1,1.045)" font-family='"Liberation Sans", sans-serif' font-size="27.5" font-weight="normal" text-anchor="middle" >500</text>
<text transform="translate(565.5,2027) scale(1,1.045)" font-family='"Liberation Sans", sans-serif' font-size="27.5" font-weight="normal" text-anchor="middle" >100</text>
<text transform="translate(634.7,2027) scale(1,1.045)" font-family='"Liberation Sans", sans-serif' font-size="27.5" font-weight="normal" text-anchor="middle" >200</text>
<text transform="translate(704.2,2027) scale(1,1.045)" font-family='"Liberation Sans", sans-serif' font-size="27.5" font-weight="normal" text-anchor="middle" >500</text>
<text transform="translate(1020.5,2032.4) scale(1,1.045)" font-family='"Liberation Sans", sans-serif' font-size="27.5" font-weight="normal" text-anchor="middle" >100</text>
<text transform="translate(1089.7,2032.4) scale(1,1.045)" font-family='"Liberation Sans", sans-serif' font-size="27.5" font-weight="normal" text-anchor="middle" >200</text>
<text transform="translate(1159.2,2032.4) scale(1,1.045)" font-family='"Liberation Sans", sans-serif' font-size="27.5" font-weight="normal" text-anchor="middle" >500</text>
<line x1="95" y1="2042.2" x2="1226" y2="2042.2" stroke="#000" stroke-width="1.3" />
<text x="533" y="2080" font-family='"Liberation Sans", sans-serif' font-size="28.2" font-weight="normal" text-anchor="start" >Particle size (µm)</text>
<rect x="180.5" y="2198.8" width="72.5" height="28" fill="#000" stroke="none" stroke-width="0" />
<rect x="277.3" y="2200.6" width="69.1" height="25.1" fill="#808080" stroke="#111" stroke-width="2.2" />
<rect x="366.6" y="2203.1" width="69.8" height="25.1" fill="#cccccc" stroke="#111" stroke-width="2.2" />
<rect x="181.8" y="2242.3" width="69.6" height="25.4" fill="#fff" stroke="#111" stroke-width="2.2" />
<rect x="277.8" y="2240.3" width="69.3" height="23.1" fill="url(#hatL)" stroke="#111" stroke-width="2.2" />
<rect x="365.3" y="2239.3" width="69.8" height="25.4" fill="#fff" stroke="#111" stroke-width="2.2" />
<line x1="379.7" y1="2239.3" x2="379.7" y2="2264.7" stroke="#000" stroke-width="1.6" />
<line x1="393.5" y1="2239.3" x2="393.5" y2="2264.7" stroke="#000" stroke-width="1.6" />
<line x1="408.6" y1="2239.3" x2="408.6" y2="2264.7" stroke="#000" stroke-width="1.6" />
<line x1="422.5" y1="2239.3" x2="422.5" y2="2264.7" stroke="#000" stroke-width="1.6" />
<line x1="365.3" y1="2242.4" x2="435.1" y2="2242.4" stroke="#000" stroke-width="2.6" />
<line x1="365.3" y1="2256.6" x2="435.1" y2="2256.6" stroke="#000" stroke-width="1.6" />
<text transform="translate(97.6,2221.2) scale(0.93,1)" font-family='"Liberation Sans", sans-serif' font-size="30">20</text>
<text transform="translate(101.3,2266.6) scale(0.93,1)" font-family='"Liberation Sans", sans-serif' font-size="30">30</text>
<circle cx="133.8" cy="2206" r="3.6" fill="none" stroke="#000" stroke-width="2.3"/>
<circle cx="136.8" cy="2251.5" r="3.6" fill="none" stroke="#000" stroke-width="2.3"/>
<text transform="translate(138.3,2221) scale(0.71,1)" font-family='"Liberation Serif", serif' font-weight="bold" font-size="31.3">C</text>
<text transform="translate(141.4,2266.5) scale(0.71,1)" font-family='"Liberation Serif", serif' font-weight="bold" font-size="31.3">C</text>
<line x1="542.1" y1="2233.3" x2="612.5" y2="2233.3" stroke="#111" stroke-width="1.1" stroke-dasharray="4.5,1.5,0.8,1.4"/>
<text x="630.5" y="2243.7" font-family='"Liberation Sans", sans-serif' font-size="27.9" font-weight="normal" text-anchor="start" >Detection limit</text>
<text x="82.2" y="2338.5" font-family='"Liberation Sans", sans-serif' font-size="61" font-weight="normal" text-anchor="start" >c</text>
</svg>
</body></html>
